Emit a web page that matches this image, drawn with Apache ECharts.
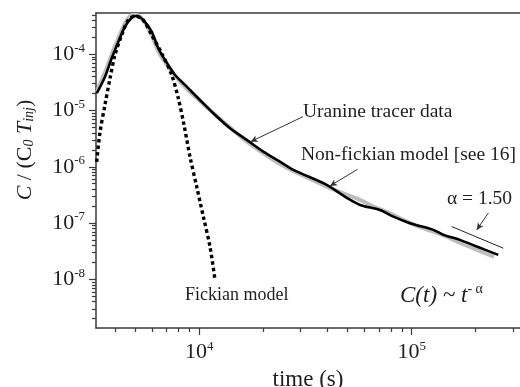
<!DOCTYPE html>
<html>
<head>
<meta charset="utf-8">
<script src="https://cdn.jsdelivr.net/npm/echarts@6/dist/echarts.min.js"></script>
<style>
  html, body { margin: 0; padding: 0; background: #fff; }
  #chart { width: 520px; height: 387px; }
</style>
</head>
<body>
<div id="chart"></div>
<script>
// 轴范围
const xMin = 3264;
const xMax = 323600;
const yMin = 1.365e-9;
const yMax = 5.415e-4;

// 刻度
const xMajorTicks = [1e4, 1e5];
const xMinorTicks = [4e3, 5e3, 6e3, 7e3, 8e3, 9e3, 2e4, 3e4, 4e4, 5e4, 6e4, 7e4, 8e4, 9e4, 2e5, 3e5];
const yMajorTicks = [1e-8, 1e-7, 1e-6, 1e-5, 1e-4];
const yMinorTicks = [
  2e-9, 3e-9, 4e-9, 5e-9, 6e-9, 7e-9, 8e-9, 9e-9,
  2e-8, 3e-8, 4e-8, 5e-8, 6e-8, 7e-8, 8e-8, 9e-8,
  2e-7, 3e-7, 4e-7, 5e-7, 6e-7, 7e-7, 8e-7, 9e-7,
  2e-6, 3e-6, 4e-6, 5e-6, 6e-6, 7e-6, 8e-6, 9e-6,
  2e-5, 3e-5, 4e-5, 5e-5, 6e-5, 7e-5, 8e-5, 9e-5,
  2e-4, 3e-4, 4e-4, 5e-4,
];

// Uranine tracer data (灰色点)
const tracerT = [
  3300, 3408, 3521, 3637, 3756, 3882, 4010, 4142, 4278, 4421,
  4566, 4717, 4873, 5035, 5201, 5373, 5551, 5735, 5925, 6120,
  6323, 6599, 6895, 7279, 7770, 8382, 9141, 10080, 11230, 12660,
  14410, 16590, 19310, 22720, 27020, 32500, 39070, 46970, 55870, 66450,
  78190, 90990, 105900, 123300, 143500, 165200, 188200, 214200, 244000,
];
const tracerC = [
  2.14e-5, 2.97e-5, 3.95e-5, 5.26e-5, 7.30e-5, 1.01e-4, 1.40e-4, 1.87e-4, 2.49e-4, 3.31e-4,
  4.07e-4, 4.79e-4, 4.99e-4, 4.99e-4, 4.79e-4, 4.24e-4, 3.60e-4, 2.93e-4, 2.29e-4, 1.72e-4,
  1.29e-4, 9.33e-5, 7.30e-5, 5.48e-5, 3.95e-5, 2.85e-5, 2.05e-5, 1.48e-5, 1.02e-5, 6.81e-6,
  4.52e-6, 2.88e-6, 1.92e-6, 1.27e-6, 8.81e-7, 6.35e-7, 4.58e-7, 3.44e-7, 2.69e-7, 1.94e-7,
  1.52e-7, 1.14e-7, 8.92e-8, 7.27e-8, 5.92e-8, 4.64e-8, 3.78e-8, 3.08e-8, 2.51e-8,
];

// Non-fickian model (实线)
const nonFickT = [
  3290, 3600, 3870, 4160, 4470, 4810, 5070, 5450, 5970, 6410,
  6900, 7690, 8570, 10070, 11640, 13960, 16710, 20010, 23970, 27720,
  39810, 49430, 57150, 70980, 82030, 98200, 126600, 141000, 168700, 202400, 255700,
];
const nonFickC = [
  2.03e-5, 4.0e-5, 8.5e-5, 1.67e-4, 3.09e-4, 4.47e-4, 4.79e-4, 4.06e-4, 2.52e-4, 1.28e-4,
  7.92e-5, 4.29e-5, 2.85e-5, 1.54e-5, 8.96e-6, 4.85e-6, 3.01e-6, 1.86e-6, 1.24e-6, 8.81e-7,
  4.78e-7, 2.81e-7, 2.10e-7, 1.71e-7, 1.30e-7, 9.95e-8, 7.57e-8, 6.17e-8, 5.03e-8, 3.83e-8, 2.72e-8,
];

// Fickian model (点线)
const fickT = [
  3290, 3404, 3597, 3800, 4010, 4313, 4636, 4981, 5448, 5969,
  6653, 7413, 7963, 8474, 9040, 9722, 10450, 11230, 11850,
];
const fickC = [
  1.22e-6, 4.0e-6, 1.26e-5, 3.75e-5, 9.72e-5, 2.20e-4, 4.06e-4, 4.79e-4, 4.06e-4, 2.20e-4,
  1.04e-4, 4.29e-5, 1.66e-5, 5.55e-6, 1.52e-6, 4.45e-7, 1.30e-7, 3.83e-8, 1.0e-8,
];

// α = 1.50 参考线
const slopeT = [154300, 270000];
const slopeC = [8.67e-8, 3.58e-8];

// 标注引线 [起点, 终点]
const leaderUranine = [[30780, 7.79e-6], [17460, 2.80e-6]];
const leaderNonFick = [[55560, 8.99e-7], [41250, 4.58e-7]];
const leaderAlpha = [[229900, 1.52e-7], [202300, 7.57e-8]];

const serif = 'Liberation Serif';
const ink = '#1e1e1e';
const axisColor = '#3a3a3a';

function pairs(xs, ys) {
  return xs.map((x, i) => [x, ys[i]]);
}

function powerLabel(value) {
  const exp = Math.round(Math.log10(value));
  return '{b|10}{s|' + exp + '}';
}

const labelRich = {
  b: { fontSize: 22, fontFamily: serif, color: ink, lineHeight: 25 },
  s: { fontSize: 13, fontFamily: serif, color: ink, lineHeight: 13, verticalAlign: 'top' },
};

function leader(points) {
  return [{ coord: points[0] }, { coord: points[1] }];
}

const chart = echarts.init(document.getElementById('chart'), null, { renderer: 'canvas' });

const option = {
  animation: false,
  backgroundColor: '#fff',
  grid: {
    left: 96, right: 0, top: 13, bottom: 59,
    containLabel: false,
    outerBoundsMode: 'none',
  },
  xAxis: [
    {
      type: 'log', position: 'bottom', min: xMin, max: xMax,
      axisLine: { show: true, lineStyle: { color: axisColor, width: 1.5 } },
      axisTick: { show: true, inside: false, length: 7, customValues: xMajorTicks, lineStyle: { color: axisColor, width: 1.2 } },
      axisLabel: { show: true, margin: 12, customValues: xMajorTicks, formatter: powerLabel, rich: labelRich },
      splitLine: { show: false },
      minorTick: { show: false },
      name: 'time (s)',
      nameLocation: 'middle',
      nameGap: 37,
      nameTextStyle: { fontFamily: serif, fontSize: 23, color: ink },
    },
    {
      type: 'log', position: 'bottom', min: xMin, max: xMax,
      axisLine: { show: false },
      axisTick: { show: true, inside: false, length: 4, customValues: xMinorTicks, lineStyle: { color: axisColor, width: 1.2 } },
      axisLabel: { show: false },
      splitLine: { show: false },
    },
    {
      type: 'log', position: 'top', min: xMin, max: xMax,
      axisLine: { show: true, lineStyle: { color: axisColor, width: 1.5 } },
      axisTick: { show: false },
      axisLabel: { show: false },
      splitLine: { show: false },
    },
  ],
  yAxis: [
    {
      type: 'log', position: 'left', min: yMin, max: yMax,
      axisLine: { show: true, lineStyle: { color: axisColor, width: 1.5 } },
      axisTick: { show: true, inside: false, length: 7, customValues: yMajorTicks, lineStyle: { color: axisColor, width: 1.2 } },
      axisLabel: { show: true, margin: 11, customValues: yMajorTicks, formatter: powerLabel, rich: labelRich },
      splitLine: { show: false },
    },
    {
      type: 'log', position: 'left', min: yMin, max: yMax,
      axisLine: { show: false },
      axisTick: { show: true, inside: false, length: 4, customValues: yMinorTicks, lineStyle: { color: axisColor, width: 1.2 } },
      axisLabel: { show: false },
      splitLine: { show: false },
    },
  ],
  series: [
    {
      name: 'Uranine tracer data',
      type: 'line',
      data: pairs(tracerT, tracerC),
      showSymbol: false,
      smooth: 0.3,
      lineStyle: { color: '#bdbdbd', width: 4 },
      z: 1,
    },
    {
      name: 'Fickian model',
      type: 'line',
      data: pairs(fickT, fickC),
      showSymbol: false,
      smooth: 0.3,
      lineStyle: { color: '#000', width: 3.4, type: [3.5, 3], cap: 'butt' },
      z: 2,
    },
    {
      name: 'Non-fickian model',
      type: 'line',
      data: pairs(nonFickT, nonFickC),
      showSymbol: false,
      smooth: 0.3,
      lineStyle: { color: '#000', width: 2.6 },
      z: 3,
      markLine: {
        silent: true,
        symbol: ['none', 'arrow'],
        symbolSize: [5, 7],
        label: { show: false },
        lineStyle: { color: '#333', width: 1, type: 'solid' },
        data: [leader(leaderUranine), leader(leaderNonFick), leader(leaderAlpha)],
      },
    },
    {
      name: 'alpha slope',
      type: 'line',
      data: pairs(slopeT, slopeC),
      showSymbol: false,
      lineStyle: { color: '#222', width: 1 },
      z: 3,
    },
  ],
  graphic: [
    {
      type: 'text', x: 25, y: 150, rotation: Math.PI / 2,
      style: {
        text: '{i|C} / (C{sub|0} {i|T}{subi|inj})',
        fontFamily: serif, fontSize: 22, fill: ink,
        align: 'center', verticalAlign: 'middle',
        rich: {
          i: { fontFamily: serif, fontSize: 22, fontStyle: 'italic', fill: ink },
          sub: { fontFamily: serif, fontSize: 14, fontStyle: 'italic', fill: ink, verticalAlign: 'bottom', lineHeight: 14 },
          subi: { fontFamily: serif, fontSize: 14, fontStyle: 'italic', fill: ink, verticalAlign: 'bottom', lineHeight: 14 },
        },
      },
    },
    {
      type: 'text', x: 303, y: 112,
      style: { text: 'Uranine tracer data', fontFamily: serif, fontSize: 19.5, fill: ink, verticalAlign: 'middle' },
    },
    {
      type: 'text', x: 301, y: 155,
      style: { text: 'Non-fickian model [see 16]', fontFamily: serif, fontSize: 19.5, fill: ink, verticalAlign: 'middle' },
    },
    {
      type: 'text', x: 447, y: 199,
      style: { text: 'α = 1.50', fontFamily: serif, fontSize: 19.5, fill: ink, verticalAlign: 'middle' },
    },
    {
      type: 'text', x: 185, y: 295,
      style: { text: 'Fickian model', fontFamily: serif, fontSize: 18, fill: ink, verticalAlign: 'middle' },
    },
    {
      type: 'text', x: 400, y: 296,
      style: {
        text: '{m|C(t) ~ t}{s|- α}',
        fontFamily: serif, fontSize: 22, fill: ink, verticalAlign: 'middle',
        rich: {
          m: { fontFamily: serif, fontSize: 23, fontStyle: 'italic', fill: ink, lineHeight: 28 },
          s: { fontFamily: serif, fontSize: 14, fill: ink, lineHeight: 14, verticalAlign: 'top' },
        },
      },
    },
  ],
};

chart.setOption(option);
</script>
</body>
</html>
